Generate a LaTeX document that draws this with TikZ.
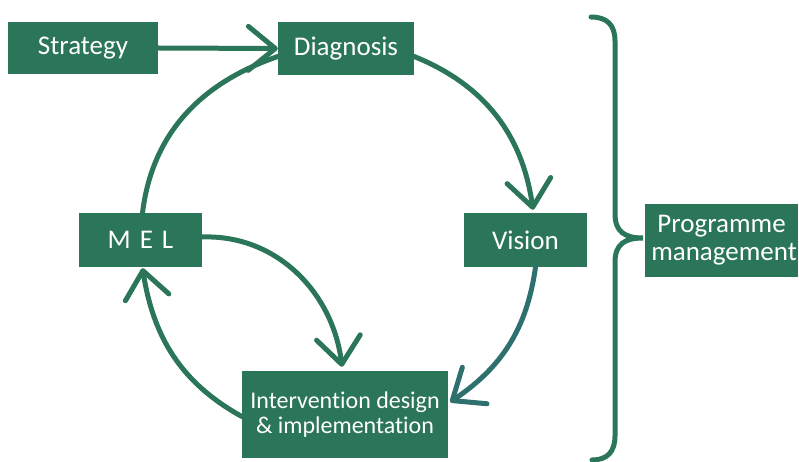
\documentclass[tikz,border=0pt]{standalone}
\usepackage{fontspec}
\setmainfont[Ligatures={NoCommon,NoRequired,NoContextual}]{Carlito}
\usetikzlibrary{arrows.meta}
\definecolor{dgreen}{RGB}{43,118,88}
\definecolor{dteal}{RGB}{46,112,110}
\tikzset{
  box/.style={fill=dgreen, text=white, inner sep=0pt, align=center, font=\fontsize{27}{28}\selectfont},
  conn/.style={draw=dgreen, line width=5pt, line cap=round},
  tip/.style={-{Straight Barb[length=27pt, width=44pt, round]}},
}
\begin{document}
\begin{tikzpicture}[x=1pt,y=1pt]
\useasboundingbox (0,0) rectangle (799,461);
\clip (0,0) rectangle (799,461);
\node[box, minimum width=150pt, minimum height=52pt] (strat) at (83,413) {Strategy};
\node[box, minimum width=136pt, minimum height=53pt] (diag) at (346,412.5) {Diagnosis};
\node[box, minimum width=123pt, minimum height=54pt] (vis) at (525.5,221) {Vision};
\node[box, minimum width=123pt, minimum height=54pt] (mel) at (140.5,221) {M\,\,E\,\,L};
\node[box, minimum width=206pt, minimum height=87pt, font=\fontsize{24}{25.5}\selectfont] (int) at (345,46.5) {Intervention design\\\& implementation};
\node[box, minimum width=153pt, minimum height=73pt, font=\fontsize{27}{28}\selectfont] (prog) at (721.5,220.5) {Programme\\\hspace*{5pt}management};
% connectors
\draw[conn, tip] (strat.east) -- (diag.west);
\draw[conn] ([xshift=2pt]mel.north) to[out=83, in=199] ([yshift=-8pt]diag.west);
\draw[conn, tip] ([yshift=-8pt]diag.east) to[out=-22, in=98] ([xshift=7.5pt, yshift=3pt]vis.north);
\draw[conn, draw=dteal, tip] ([xshift=10pt]vis.south) to[out=-98, in=34] ([xshift=2pt, yshift=12.5pt]int.east);
\draw[conn, tip] ([yshift=-2pt]int.west) to[out=151, in=-81] ([xshift=2pt, yshift=-1pt]mel.south);
\draw[conn, tip] ([yshift=3pt]mel.east) to[out=2, in=97] ([xshift=-3pt, yshift=4pt]int.north);
% brace
\coordinate (bt) at (591,444);
\coordinate (bb) at (592,1);
\coordinate (bm) at (643,223);
\draw[conn] (bt) .. controls (607,444) and (615,436) .. (615,420) -- (615,247)
  .. controls (615,229) and (625,223) .. (bm)
  .. controls (625,223) and (615,217) .. (615,199) -- (615,25)
  .. controls (615,9) and (607,1) .. (bb);
\end{tikzpicture}
\end{document}
